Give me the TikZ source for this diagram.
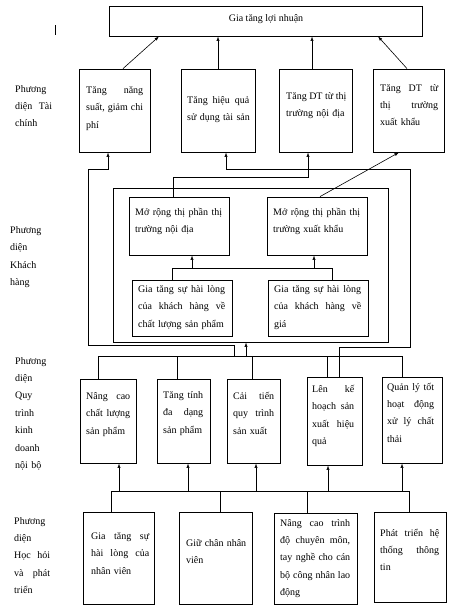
\documentclass[tikz,border=0pt]{standalone}
\usepackage{fontspec}
\setmainfont{Liberation Serif}
\usetikzlibrary{arrows.meta,fit}
\newcommand\J[1]{\leavevmode\hbox to\hsize{\spaceskip=0.25em plus 1fil\relax #1}}
\newcommand\E[1]{\mbox{#1}}
\tikzset{
  box/.style={draw, inner sep=0pt, line width=0.8pt},
  tx/.style={anchor=base west, inner sep=0pt, align=left, font=\fontsize{10}{17.4}\selectfont},
  ln/.style={line width=0.6pt},
  arr/.style={line width=0.6pt, -{Latex[length=4.5pt,width=3.2pt]}}
}
\begin{document}
\begin{tikzpicture}[x=1pt,y=-1pt]
\useasboundingbox (0,0) rectangle (476,613);
% stray mark
\draw[line width=0.8pt] (55,25) -- (55,35);
% top
\node[box, fit={(109,6) (422,36)}] (top) {};
\node[tx, anchor=base] (topt) at (266,21) {Gia tăng lợi nhuận};
% finance
\node[box, fit={(79,69) (150,152)}] (f1) {};
\node[box, fit={(181,69) (255,152)}] (f2) {};
\node[box, fit={(279,69) (352,152)}] (f3) {};
\node[box, fit={(373,69) (444,152)}] (f4) {};
\node[tx, text width=57pt] (f1t) at (86,93.5) {\J{Tăng năng}\\\J{suất, giảm chi}\\\E{phí}};
\node[tx, text width=62pt] (f2t) at (187,103) {\J{Tăng hiệu quả}\\\E{sử dụng tài sản}};
\node[tx, text width=60pt] (f3t) at (286,99) {\J{Tăng DT từ thị}\\\E{trường nội địa}};
\node[tx, text width=58pt] (f4t) at (380,91) {\J{Tăng DT từ}\\\J{thị trường}\\\E{xuất khẩu}};
\node[tx, text width=37pt] (lf) at (15,92) {\E{Phương}\\\J{diện Tài}\\\E{chính}};
% customer
\node[box, fit={(113,188) (388,342)}] (inner) {};
\node[box, fit={(129,197) (229,255)}] (c1) {};
\node[box, fit={(267,197) (367,255)}] (c2) {};
\node[box, fit={(132,280) (232,336)}] (c3) {};
\node[box, fit={(268,280) (368,336)}] (c4) {};
\node[tx, text width=87pt] (c1t) at (135,215) {\J{Mở rộng thị phần thị}\\\E{trường nội địa}};
\node[tx, text width=87pt] (c2t) at (273,215) {\J{Mở rộng thị phần thị}\\\E{trường xuất khẩu}};
\node[tx, text width=87pt] (c3t) at (138,292.5) {\J{Gia tăng sự hài lòng}\\\J{của khách hàng về}\\\E{chất lượng sản phẩm}};
\node[tx, text width=87pt] (c4t) at (274,292.5) {\J{Gia tăng sự hài lòng}\\\J{của khách hàng về}\\\E{giá}};
\node[tx, text width=40pt] (lc) at (10,233.5) {Phương\\diện\\Khách\\hàng};
% process
\node[box, fit={(80,379) (136,463)}] (p1) {};
\node[box, fit={(157,379) (210,463)}] (p2) {};
\node[box, fit={(227,379) (280,463)}] (p3) {};
\node[box, fit={(307,377) (362,465)}] (p4) {};
\node[box, fit={(382,377) (442,463)}] (p5) {};
\node[tx, text width=44pt] (p1t) at (86,399.5) {\J{Nâng cao}\\\J{chất lượng}\\\E{sản phẩm}};
\node[tx, text width=40pt] (p2t) at (163,398.5) {\J{Tăng tính}\\\J{đa dạng}\\\E{sản phẩm}};
\node[tx, text width=41pt] (p3t) at (233,399.5) {\J{Cải tiến}\\\J{quy trình}\\\E{sản xuất}};
\node[tx, text width=42pt] (p4t) at (312,392.5) {\J{Lên kế}\\\J{hoạch sản}\\\J{xuất hiệu}\\\E{quả}};
\node[tx, text width=47pt] (p5t) at (387,390) {\J{Quản lý tốt}\\\J{hoạt động}\\\J{xử lý chất}\\\E{thải}};
\node[tx, text width=40pt] (lp) at (15,364) {Phương\\diện\\Quy\\trình\\kinh\\doanh\\nội bộ};
% learning
\node[box, fit={(83,512) (154,604)}] (l1) {};
\node[box, fit={(179,512) (252,604)}] (l2) {};
\node[box, fit={(274,513) (357,604)}] (l3) {};
\node[box, fit={(374,512) (446,602)}] (l4) {};
\node[tx, text width=58pt] (l1t) at (91,539.5) {\J{Gia tăng sự}\\\J{hài lòng của}\\\E{nhân viên}};
\node[tx, text width=60pt] (l2t) at (186,546) {\J{Giữ chân nhân}\\\E{viên}};
\node[tx, text width=70pt] (l3t) at (280,526) {\J{Nâng cao trình}\\\J{độ chuyên môn,}\\\J{tay nghề cho cán}\\\J{bộ công nhân lao}\\\E{động}};
\node[tx, text width=59pt] (l4t) at (380,536) {\J{Phát triển hệ}\\\J{thống thông}\\\E{tin}};
\node[tx, text width=36pt] (ll) at (14,524) {\E{Phương}\\\E{diện}\\\J{Học hỏi}\\\J{và phát}\\\E{triển}};
% bus coordinates
\coordinate (cb) at (0,268);
\coordinate (pb) at (0,356);
\coordinate (lb) at (0,491);
\coordinate (la) at (0,345);
\coordinate (ra) at (0,347);
\coordinate (ha) at (0,169);
\coordinate (hb) at (0,177);
% finance -> top
\draw[arr] (123,0 |- f1.north) -- (159,0 |- top.south);
\draw[arr] (218,0 |- f2.north) -- (218,0 |- top.south);
\draw[arr] (312,0 |- f3.north) -- (312,0 |- top.south);
\draw[arr] (407,0 |- f4.north) -- (378,0 |- top.south);
% customer -> finance
\draw[arr] (173,0 |- c1.north) -- (173,0 |- hb) -- (308,0 |- hb) -- (308,0 |- f3.south);
\draw[arr] (320,0 |- c2.north) -- (399,0 |- f4.south);
% customer inner bus
\draw[ln] (172,0 |- c3.north) -- (172,0 |- cb) -- (332,0 |- cb) -- (332,0 |- c4.north);
\draw[arr] (192,0 |- cb) -- (192,0 |- c1.south);
\draw[arr] (314,0 |- cb) -- (314,0 |- c2.south);
% process bus
\draw[ln] (98,0 |- p1.north) -- (98,0 |- pb) -- (402,0 |- pb) -- (402,0 |- p5.north);
\draw[ln] (177,0 |- pb) -- (177,0 |- p2.north);
\draw[ln] (252,0 |- pb) -- (252,0 |- p3.north);
\draw[ln] (327,0 |- pb) -- (327,0 |- p4.north);
\draw[arr] (246,0 |- pb) -- (246,0 |- inner.south);
\draw[arr] (234,0 |- pb) -- (234,0 |- la) -- (88,0 |- la) -- (88,0 |- ha) -- (108,0 |- ha) -- (108,0 |- f1.south);
\draw[arr] (339,0 |- p4.north) -- (339,0 |- ra) -- (410,0 |- ra) -- (410,0 |- ha) -- (226,0 |- ha) -- (226,0 |- f2.south);
% learning bus
\draw[ln] (111,0 |- l1.north) -- (111,0 |- lb) -- (409,0 |- lb) -- (409,0 |- l4.north);
\draw[ln] (220,0 |- lb) -- (220,0 |- l2.north);
\draw[ln] (307,0 |- lb) -- (307,0 |- l3.north);
\draw[arr] (119,0 |- lb) -- (119,0 |- p1.south);
\draw[arr] (188,0 |- lb) -- (188,0 |- p2.south);
\draw[arr] (256,0 |- lb) -- (256,0 |- p3.south);
\draw[arr] (328,0 |- lb) -- (328,0 |- p4.south);
\draw[arr] (402,0 |- lb) -- (402,0 |- p5.south);
\end{tikzpicture}
\end{document}
